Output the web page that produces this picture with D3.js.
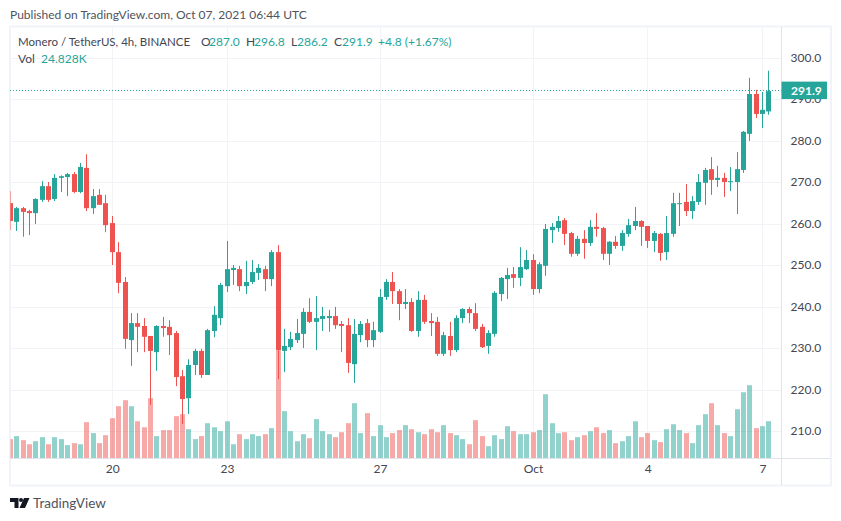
<!DOCTYPE html>
<html>
<head>
<meta charset="utf-8">
<script src="https://cdn.jsdelivr.net/npm/d3@7"></script>
<style>
    html, body { margin: 0; background: #ffffff; }
    svg { display: block; }
    text { font-family: Lato, "Open Sans", sans-serif; }
</style>
</head>
<body>
<div id="chart"></div>
<script>
// Candle values, one entry per 4h bar
var opens = [264.9,260.4,263.7,263.0,262.5,265.7,269.0,265.9,271.0,271.2,271.9,267.6,273.4,263.7,266.9,264.9,260.1,253.1,245.9,231.9,
    236.0,235.3,232.9,229.0,235.3,235.1,233.6,223.2,217.9,225.9,229.3,223.5,234.1,237.2,244.9,248.8,249.0,244.9,245.9,248.1,
    249.0,246.6,253.1,229.3,230.2,231.9,233.4,238.7,236.3,237.0,237.2,237.7,235.8,235.5,226.1,233.1,236.0,231.9,233.9,242.3,
    245.9,243.7,240.6,241.1,234.1,241.6,236.5,236.3,228.6,232.9,229.5,237.2,239.4,238.4,235.1,230.5,233.4,243.0,246.6,247.8,
    246.9,249.0,251.2,244.2,249.8,258.4,258.9,260.8,257.7,252.7,256.3,255.3,259.2,258.9,252.7,255.6,254.6,257.5,259.4,260.6,
    259.4,255.8,257.5,253.1,257.5,264.7,265.2,263.0,265.2,269.8,273.1,270.5,271.0,270.0,270.0,272.9,281.6,291.2,286.4,287.0];
var highs = [267.8,264.0,264.0,263.3,266.1,270.2,270.0,271.9,271.6,272.2,272.4,274.6,276.7,268.3,268.3,266.9,261.8,255.5,247.1,238.4,
    238.4,237.2,232.9,235.5,237.5,236.7,234.1,224.7,227.3,229.8,229.8,234.6,240.1,245.7,255.8,250.0,249.8,251.0,251.2,250.2,
    249.8,253.6,254.8,234.6,233.9,237.0,239.6,242.0,242.5,239.9,239.2,239.9,236.5,237.2,237.0,236.5,237.0,236.3,244.2,246.6,
    248.3,244.2,244.2,242.0,243.7,242.8,238.4,237.5,233.9,236.3,237.9,239.6,239.9,240.8,235.8,234.3,243.7,247.1,249.3,249.5,
    254.3,253.6,252.6,250.7,259.9,260.1,261.8,261.3,258.0,257.0,258.4,260.8,262.5,259.2,255.8,257.0,258.4,261.1,264.0,260.8,
    259.4,258.2,257.7,261.8,267.4,267.4,269.5,266.6,271.9,273.4,276.0,273.9,272.2,273.6,277.2,282.3,295.1,292.2,291.7,296.8];
var lows = [258.4,258.2,256.8,257.2,259.9,265.2,265.2,265.4,267.6,266.6,267.3,267.3,263.0,262.3,264.5,257.9,250.0,243.2,229.8,225.7,
    229.0,229.0,216.3,224.5,232.7,228.3,220.8,211.7,214.1,223.5,222.8,223.5,232.6,235.5,243.5,245.2,243.7,243.0,245.4,246.4,
    243.7,244.9,222.5,224.2,229.5,231.2,230.0,236.0,229.5,234.1,233.9,234.6,229.0,224.0,221.6,231.4,230.2,230.2,233.6,241.6,
    240.6,236.7,239.4,233.9,232.7,235.8,232.9,228.1,228.1,228.1,229.0,236.0,236.0,234.1,230.0,228.6,232.7,241.3,241.8,244.5,
    244.9,248.8,242.8,243.2,247.4,255.3,258.0,254.8,252.0,252.2,251.5,254.6,256.8,251.2,250.0,253.9,253.4,256.8,258.4,254.6,
    254.1,253.1,251.0,251.2,256.8,259.4,261.8,261.1,264.5,264.5,266.9,268.8,266.4,267.8,262.3,272.2,279.9,285.4,283.0,286.2];
var closes = [260.6,263.7,262.8,262.5,265.9,269.0,265.7,271.0,271.4,271.9,267.6,273.6,263.7,266.6,264.5,259.6,253.1,245.7,232.2,236.0,
    235.1,232.7,229.3,235.3,234.8,233.1,223.0,217.7,225.9,229.3,223.5,234.3,238.0,245.2,249.0,249.3,244.9,245.9,248.3,249.3,
    246.6,253.1,229.5,230.5,232.2,233.6,238.7,236.3,237.2,237.7,237.7,235.5,235.3,226.4,233.4,235.8,231.9,234.3,242.3,245.9,
    243.7,240.6,241.1,234.1,241.6,236.3,236.0,228.6,233.1,229.5,237.2,239.4,238.4,234.6,230.2,233.6,243.3,246.9,247.6,246.9,
    249.5,251.2,244.2,250.2,258.7,259.2,260.6,257.5,252.7,256.3,255.3,259.2,258.7,252.7,255.6,254.6,257.7,259.6,260.6,259.2,
    255.8,257.7,252.9,257.7,264.9,264.9,263.0,265.4,270.0,272.9,270.5,271.0,270.0,270.2,273.1,282.1,291.2,286.4,287.4,291.9];
// Volume in thousands
var volumes = [12.9,14.9,12.2,9.5,11.5,14.2,9.5,14.2,12.9,8.9,10.2,9.5,24.2,16.9,10.2,15.5,26.8,34.8,38.8,34.8,
    24.8,20.8,40.1,14.9,18.9,18.9,28.2,29.5,19.5,12.9,14.9,23.5,20.8,18.2,24.8,9.5,16.2,12.9,16.2,14.9,
    16.2,20.2,72.1,31.5,18.2,11.5,16.2,13.5,26.2,18.2,16.2,14.2,17.5,23.5,36.8,16.9,30.2,14.9,22.2,14.2,
    16.9,18.9,22.2,19.5,17.5,16.2,19.5,17.5,22.2,16.9,15.5,12.9,9.5,25.5,14.9,8.2,15.5,12.9,21.5,18.2,
    16.2,16.2,17.5,18.9,42.8,23.5,16.9,17.5,12.2,14.2,15.5,18.2,20.8,16.9,18.9,10.2,11.5,14.9,24.8,14.2,
    16.9,12.2,10.9,19.5,22.8,18.9,16.9,10.2,22.2,29.5,36.8,22.2,16.9,14.9,32.8,44.1,48.8,20.2,21.5,24.828];

// Axis labels
var priceTicks = [210, 220, 230, 240, 250, 260, 270, 280, 290, 300];
var timeTickBars = [16, 34, 58, 82, 100, 118];
var timeTickLabels = ["20", "23", "27", "Oct", "4", "7"];
var lastPrice = 291.9;

var svgWidth = 841;
var svgHeight = 521;

// Pane edges
var pane = { left: 10, top: 27, right: 781.5, bottom: 458.5 };

var upColor = "#26a69a";
var downColor = "#ef5350";
var gridColor = "#f1f3f6";
var axisLine = "#e0e3eb";
var textColor = "#434651";

var svg = d3.select("#chart")
    .append("svg")
    .attr("width", svgWidth)
    .attr("height", svgHeight);

// Scales
var bars = d3.range(opens.length);
var xScale = d3.scaleLinear().domain([0, 119]).range([10.3, 768.9]);
var yScale = d3.scaleLinear().domain([210, 300]).range([431, 57.5]);
var volScale = d3.scaleLinear().domain([0, 24.828]).range([pane.bottom, 421.2]);

// Snap a bar to whole pixels so the bodies stay crisp
function barX(i) {
    return Math.round(xScale(i) - 0.5);
}

svg.append("defs").append("clipPath")
    .attr("id", "paneClip")
    .append("rect")
    .attr("x", pane.left + 0.5)
    .attr("y", pane.top)
    .attr("width", pane.right - pane.left - 0.5)
    .attr("height", pane.bottom - pane.top);

// Outer frame
svg.append("rect")
    .attr("x", 10)
    .attr("y", 26.5)
    .attr("width", 821)
    .attr("height", 459)
    .attr("fill", "none")
    .attr("stroke", "#f0f3fa")
    .attr("stroke-width", 2);

// Grid lines
svg.append("g").selectAll("line")
    .data(priceTicks)
    .enter()
    .append("line")
    .attr("x1", pane.left)
    .attr("x2", pane.right)
    .attr("y1", d => Math.round(yScale(d)) + 0.5)
    .attr("y2", d => Math.round(yScale(d)) + 0.5)
    .attr("stroke", gridColor);

svg.append("g").selectAll("line")
    .data(timeTickBars)
    .enter()
    .append("line")
    .attr("x1", d => barX(d) + 0.5)
    .attr("x2", d => barX(d) + 0.5)
    .attr("y1", pane.top)
    .attr("y2", pane.bottom)
    .attr("stroke", gridColor);

var plot = svg.append("g").attr("clip-path", "url(#paneClip)");

function barColor(i) {
    return closes[i] >= opens[i] ? upColor : downColor;
}

// Volume sits behind the candles
plot.append("g").selectAll("rect")
    .data(bars)
    .enter()
    .append("rect")
    .attr("x", i => barX(i) - 2)
    .attr("width", 5)
    .attr("y", i => volScale(volumes[i]))
    .attr("height", i => pane.bottom - volScale(volumes[i]))
    .attr("fill", barColor)
    .attr("opacity", 0.5);

// Wicks
plot.append("g").selectAll("line")
    .data(bars)
    .enter()
    .append("line")
    .attr("x1", i => barX(i) + 0.5)
    .attr("x2", i => barX(i) + 0.5)
    .attr("y1", i => yScale(highs[i]))
    .attr("y2", i => yScale(lows[i]))
    .attr("stroke", barColor)
    .attr("stroke-width", 1);

// Bodies
plot.append("g").selectAll("rect")
    .data(bars)
    .enter()
    .append("rect")
    .attr("x", i => barX(i) - 2)
    .attr("width", 5)
    .attr("y", i => yScale(Math.max(opens[i], closes[i])))
    .attr("height", i => Math.max(1, Math.abs(yScale(opens[i]) - yScale(closes[i]))))
    .attr("fill", barColor);

// Pane borders
svg.append("line")
    .attr("x1", pane.right).attr("x2", pane.right)
    .attr("y1", pane.top).attr("y2", 485)
    .attr("stroke", axisLine);
svg.append("line")
    .attr("x1", pane.left).attr("x2", 831)
    .attr("y1", pane.bottom).attr("y2", pane.bottom)
    .attr("stroke", axisLine);

// Price axis
var priceAxis = d3.axisRight(yScale)
    .tickValues(priceTicks)
    .tickSize(0)
    .tickPadding(9)
    .tickFormat(d => d.toFixed(1));

var priceGroup = svg.append("g")
    .attr("transform", `translate(${pane.right}, 0)`)
    .call(priceAxis);
priceGroup.select(".domain").remove();
priceGroup.selectAll("text")
    .attr("fill", textColor)
    .style("font-size", "12px");

// Time axis
var timeAxis = d3.axisBottom(xScale)
    .tickValues(timeTickBars)
    .tickSize(0)
    .tickPadding(6)
    .tickFormat((d, i) => timeTickLabels[i]);

var timeGroup = svg.append("g")
    .attr("transform", `translate(0, ${pane.bottom})`)
    .call(timeAxis);
timeGroup.select(".domain").remove();
timeGroup.selectAll("text")
    .attr("fill", textColor)
    .style("font-size", "12px");

// Last price line and label
svg.append("line")
    .attr("x1", pane.left)
    .attr("x2", pane.right)
    .attr("y1", Math.round(yScale(lastPrice)) - 0.5)
    .attr("y2", Math.round(yScale(lastPrice)) - 0.5)
    .attr("stroke", upColor)
    .attr("stroke-dasharray", "1 2");

svg.append("rect")
    .attr("x", pane.right)
    .attr("y", yScale(lastPrice) - 9.5)
    .attr("width", 45.5)
    .attr("height", 17.5)
    .attr("fill", upColor);

svg.append("text")
    .attr("x", 791)
    .attr("y", yScale(lastPrice) + 4)
    .attr("fill", "#ffffff")
    .attr("font-size", 12)
    .attr("font-weight", 700)
    .text(lastPrice.toFixed(1));

// Header and legend text
function label(x, y, str, fill, size) {
    svg.append("text")
        .attr("x", x)
        .attr("y", y)
        .attr("fill", fill)
        .attr("font-size", size)
        .text(str);
}

label(10, 19, "Published on TradingView.com, Oct 07, 2021 06:44 UTC", "#50535e", 12);
label(18, 46, "Monero / TetherUS, 4h, BINANCE", textColor, 11.5);
label(201, 46, "O", textColor, 12);
label(209, 46, "287.0", upColor, 12);
label(246, 46, "H", textColor, 12);
label(254, 46, "296.8", upColor, 12);
label(291, 46, "L", textColor, 12);
label(297, 46, "286.2", upColor, 12);
label(334, 46, "C", textColor, 12);
label(342, 46, "291.9", upColor, 12);
label(378, 46, "+4.8 (+1.67%)", upColor, 12);
label(18, 63, "Vol", textColor, 12);
label(41, 63, "24.828K", upColor, 12);

// TradingView logo
var logo = svg.append("g").attr("fill", "#131722");
logo.append("path").attr("d", "M10 498h8.5v10h-4v-6H10z");
logo.append("circle").attr("cx", 21).attr("cy", 500).attr("r", 2);
logo.append("path").attr("d", "M24 498h5.5l-4.5 10h-5.5z");

svg.append("text")
    .attr("x", 33)
    .attr("y", 508)
    .attr("fill", "#50535e")
    .attr("font-size", 13.5)
    .text("TradingView");
</script>
</body>
</html>
